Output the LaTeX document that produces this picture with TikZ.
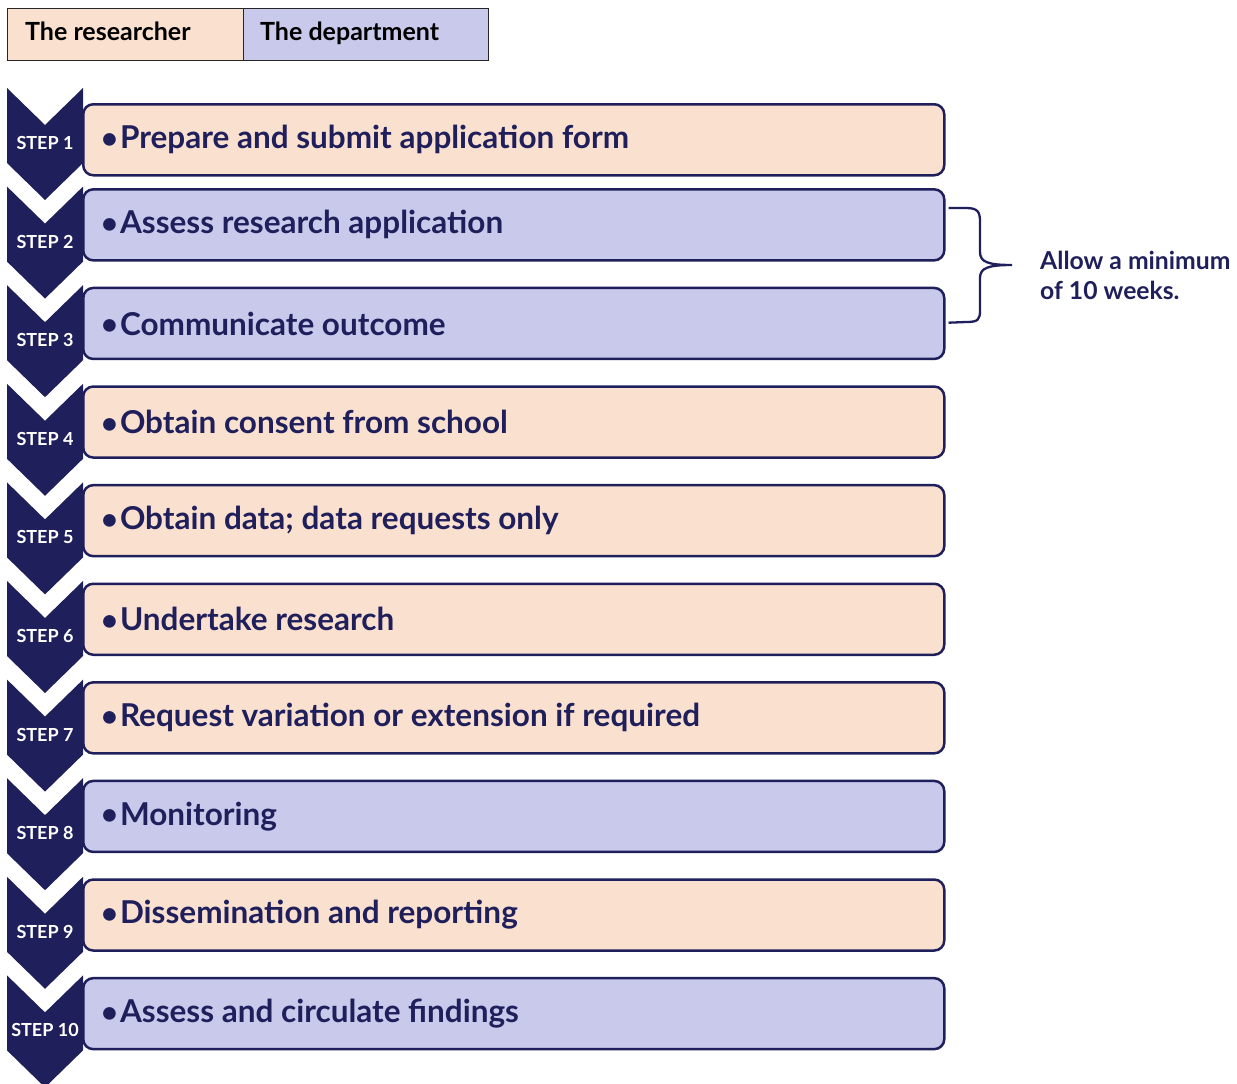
\documentclass[tikz,border=0pt]{standalone}
\usepackage{fontspec}
\setmainfont{Lato}
\definecolor{peach}{HTML}{FAE0CF}
\definecolor{lav}{HTML}{C9C9EC}
\definecolor{navy}{HTML}{1F1F5C}
\begin{document}
\begin{tikzpicture}[x=1pt,y=-1pt,
  legendbox/.style={draw=black!85,line width=1.3pt,minimum height=52pt,anchor=north west,inner sep=0pt},
  legendtext/.style={anchor=base west,text=black,font=\fontsize{25}{28}\selectfont\bfseries,inner sep=0pt},
  stepbox/.style={draw=navy,line width=2.5pt,rounded corners=10pt,minimum width=861pt,minimum height=71pt,anchor=north west,inner sep=0pt},
  chev/.style={fill=navy},
  steplabel/.style={text=white,font=\fontsize{18}{19}\selectfont\bfseries,inner sep=0pt},
  boxtext/.style={text=navy,font=\fontsize{31.5}{34}\selectfont\bfseries,anchor=west,inner sep=0pt},
  notetext/.style={text=navy,font=\fontsize{24.7}{30}\selectfont\bfseries,anchor=north west,align=left,inner sep=0pt},
  bracepath/.style={draw=navy,line width=2.3pt}]
\useasboundingbox (0,0) rectangle (1237,1084);
% legend
\node[legendbox,fill=peach,minimum width=236pt] (lr) at (7,8) {};
\node[legendbox,fill=lav,minimum width=245pt] (ld) at (243,8) {};
\node[legendtext] (lrt) at (25,40) {The researcher};
\node[legendtext] (ldt) at (260,40) {The department};
% steps
\foreach \k/\col/\txt in {1/peach/Prepare and submit application form,
  2/lav/Assess research application,
  3/lav/Communicate outcome,
  4/peach/Obtain consent from school,
  5/peach/Obtain data; data requests only,
  6/peach/Undertake research,
  7/peach/Request variation or extension if required,
  8/lav/Monitoring,
  9/peach/Dissemination and reporting,
  10/lav/Assess and circulate findings}{
  \pgfmathsetmacro{\t}{88+(\k-1)*98.6}
  \pgfmathsetmacro{\bt}{ifthenelse(\k==1,103,\t+1.5)}
  \fill[chev] (7,\t) -- (45,\t+37) -- (83,\t) -- (83,\t+75) -- (45,\t+112) -- (7,\t+75) -- cycle;
  \node[steplabel] (s\k) at (45,\t+55) {STEP \k};
  \node[stepbox,fill=\col] (b\k) at (82,\bt) {};
  \node[boxtext] (t\k) at ([xshift=19pt]b\k.west) {\raisebox{0.5pt}{\fontsize{29}{29}\selectfont•}\hspace{2pt}\txt};
}
% brace
\coordinate (br1) at ([xshift=3pt,yshift=-20pt]b2.north east);
\coordinate (br2) at ([xshift=3pt,yshift=-36pt]b3.north east);
\draw[bracepath] (br1) -- (966,208) .. controls (978,208) and (980,212) .. (980,222) -- (980,252) .. controls (980,262) and (988,265) .. (1012,265) .. controls (988,265) and (980,268) .. (980,278) -- (980,310) .. controls (980,320) and (978,322) .. (966,322) -- (br2);
\node[notetext] (note) at (1040,251) {Allow a minimum\\of 10 weeks.};
\end{tikzpicture}
\end{document}
